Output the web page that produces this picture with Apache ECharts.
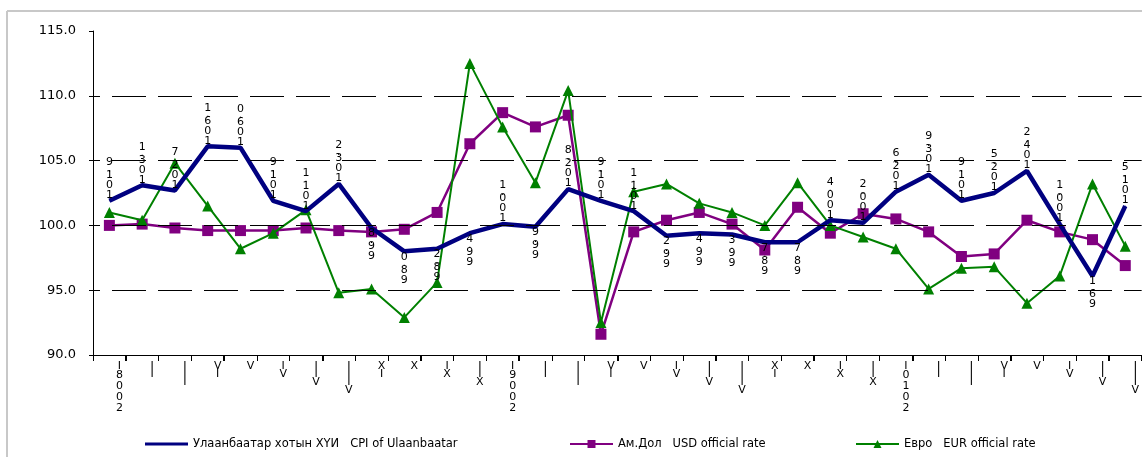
<!DOCTYPE html>
<html><head><meta charset="utf-8">
<script src="https://cdn.jsdelivr.net/npm/echarts@6/dist/echarts.min.js"></script>
<style>html,body{margin:0;padding:0;background:#fff}#c{width:1142px;height:457px}</style>
</head><body><div id="c"></div>
<script>
const monthLabels = ["I","II","III","IV","V","VI","VII","VIII","IX","X","XI","XII",
                     "I","II","III","IV","V","VI","VII","VIII","IX","X","XI","XII",
                     "I","II","III","IV","V","VI","VII","VIII"];
const yearLabels = ["2008","","","","","","","","","","","",
                    "2009","","","","","","","","","","","",
                    "2010","","","","","","",""];
const seriesNames = ["Улаанбаатар хотын ХҮИ   CPI of Ulaanbaatar", "Ам.Дол   USD official rate", "Евро   EUR official rate"];
const cpi = [101.9,103.1,102.7,106.1,106.0,101.9,101.1,103.2,99.8,98.0,98.2,99.4,
             100.1,99.9,102.8,101.9,101.1,99.2,99.4,99.3,98.7,98.7,100.4,100.2,
             102.6,103.9,101.9,102.5,104.2,100.1,96.1,101.5];
const usd = [100.0,100.1,99.8,99.6,99.6,99.6,99.8,99.6,99.5,99.7,101.0,106.3,
             108.7,107.6,108.5,91.6,99.5,100.4,101.0,100.1,98.1,101.4,99.4,100.9,
             100.5,99.5,97.6,97.8,100.4,99.5,98.9,96.9];
const eur = [101.0,100.4,104.8,101.5,98.2,99.4,101.2,94.8,95.1,92.9,95.6,112.5,
             107.6,103.3,110.4,92.5,102.6,103.2,101.7,101.0,100.0,103.3,100.0,99.1,
             98.2,95.1,96.7,96.8,94.0,96.1,103.2,98.4];
const gridValues = [95, 100, 105, 110];

const categories = monthLabels.map((m, i) => yearLabels[i] ? m + " " + yearLabels[i] : m);
const rev = s => s.split("").reverse();

function xLabel(v) {
  const parts = v.split(" ");
  const lines = rev(parts[0]).map(c => "{r|" + c + "}");
  if (parts[1]) rev(parts[1]).forEach(c => lines.push("{d|" + c + "}"));
  return lines.join("\n");
}
function valLabel(p) {
  return rev(p.value.toFixed(1)).map(c => c === "." ? "{p|.}" : "{n|" + c + "}").join("\n");
}

const font = "DejaVu Sans";
const legendText = {fontFamily: font, fontSize: 11.5, color: "#000"};
const chart = echarts.init(document.getElementById("c"), null, {renderer: "canvas"});
chart.setOption({
  animation: false,
  backgroundColor: "#fff",
  graphic: [
    {type: "line", shape: {x1: 7, y1: 11, x2: 1142, y2: 11}, style: {stroke: "#c8c8c8", lineWidth: 2}, silent: true},
    {type: "line", shape: {x1: 7, y1: 11, x2: 7, y2: 457}, style: {stroke: "#c8c8c8", lineWidth: 2}, silent: true}
  ],
  grid: {left: 93, top: 31, width: 1051, height: 324, containLabel: false},
  legend: [
    {data: [{name: seriesNames[0], icon: "rect"}], left: 145, top: 438, itemWidth: 43, itemHeight: 3, padding: 0, textStyle: legendText},
    {data: [seriesNames[1]], left: 569, top: 438, itemWidth: 43, itemHeight: 10, padding: 0, textStyle: legendText},
    {data: [seriesNames[2]], left: 855, top: 438, itemWidth: 43, itemHeight: 10, padding: 0, textStyle: legendText}
  ],
  xAxis: [
    {type: "category", data: categories, boundaryGap: true,
     axisLine: {lineStyle: {color: "#000", width: 1}},
     axisTick: {show: true, interval: 0, length: 6, lineStyle: {color: "#000"}},
     axisLabel: {interval: 0, margin: 7, color: "#000", formatter: xLabel, padding: [0, 0, 0, 20],
       rich: {r: {fontFamily: font, fontSize: 11, lineHeight: 8, color: "#000"},
              d: {fontFamily: font, fontSize: 11, lineHeight: 11, color: "#000"}}},
     splitLine: {show: false}},
    {type: "category", data: categories, boundaryGap: true, position: "bottom",
     axisLine: {show: false},
     axisTick: {show: true, interval: (i) => i % 3 === 1, length: 6, lineStyle: {color: "#000", width: 2}},
     axisLabel: {show: false}, splitLine: {show: false}}
  ],
  yAxis: {type: "value", min: 90, max: 115, interval: 5,
    axisLine: {show: true, lineStyle: {color: "#000"}},
    axisTick: {show: true, length: 4, lineStyle: {color: "#000"}},
    axisLabel: {color: "#000", fontFamily: font, fontSize: 13, margin: 17, formatter: v => v.toFixed(1)},
    splitLine: {show: false}},
  series: [
    {type: "line", name: "_grid", data: [], z: 1, silent: true,
     markLine: {silent: true, symbol: ["none", "none"], label: {show: false},
       lineStyle: {color: "#000", width: 1, type: [34, 12], dashOffset: 27},
       data: gridValues.map(v => ({yAxis: v}))}},
    {type: "line", name: seriesNames[0], z: 4,
     data: cpi.map(v => ({value: v, label: {position: v >= 100 ? "top" : "bottom"}})),
     symbol: "circle", symbolSize: 1, showSymbol: true,
     lineStyle: {color: "#000080", width: 4.5}, itemStyle: {color: "#000080"},
     labelLayout: {hideOverlap: false},
     label: {show: true, distance: 0, offset: [6, 0], formatter: valLabel,
       rich: {n: {fontFamily: font, fontSize: 11, lineHeight: 10, color: "#000"},
              p: {fontFamily: font, fontSize: 11, lineHeight: 3, color: "#000"}}}},
    {type: "line", name: seriesNames[1], z: 2, data: usd,
     symbol: "rect", symbolSize: 11, lineStyle: {color: "#800080", width: 2.5}, itemStyle: {color: "#800080"}},
    {type: "line", name: seriesNames[2], z: 3, data: eur,
     symbol: "triangle", symbolSize: 11, lineStyle: {color: "#008000", width: 2}, itemStyle: {color: "#008000"}}
  ]
});
</script></body></html>
